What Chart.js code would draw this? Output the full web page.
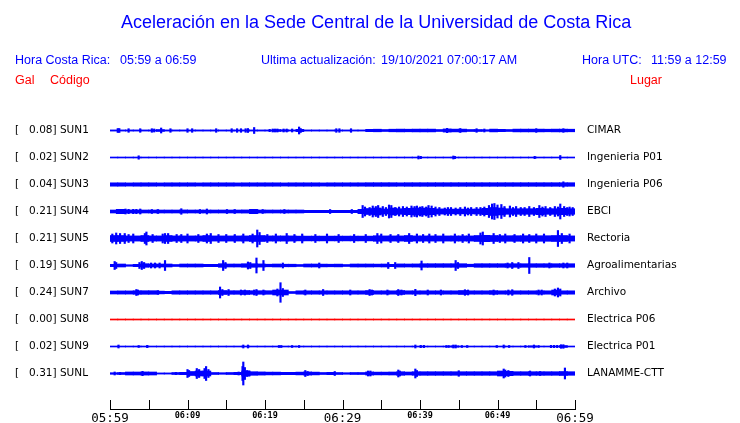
<!DOCTYPE html>
<html>
<head>
<meta charset="utf-8">
<script src="https://cdn.jsdelivr.net/npm/chart.js@4"></script>
<style>
  html, body { margin: 0; padding: 0; background: #fff; }
  #wrap { position: relative; width: 740px; height: 423px; overflow: hidden; }
  #wrap canvas { position: absolute; left: 0; top: 0; }
  .t { position: absolute; font-family: "Liberation Sans", Arial, sans-serif; line-height: 1; white-space: pre; color: #0000ff; }
  .red { color: #ff0000; }
</style>
</head>
<body>
<div id="wrap">
  <canvas id="seis" width="740" height="423"></canvas>
  <div class="t" style="left:121px;top:13px;font-size:18px">Aceleración en la Sede Central de la Universidad de Costa Rica</div>
  <div class="t" style="left:15px;top:54px;font-size:12.5px">Hora Costa Rica:</div>
  <div class="t" style="left:120px;top:54px;font-size:12.5px">05:59 a 06:59</div>
  <div class="t" style="left:261px;top:54px;font-size:12.5px">Ultima actualización:</div>
  <div class="t" style="left:381px;top:54px;font-size:12.5px">19/10/2021 07:00:17 AM</div>
  <div class="t" style="left:582px;top:54px;font-size:12.5px">Hora UTC:</div>
  <div class="t" style="left:651px;top:54px;font-size:12.5px">11:59 a 12:59</div>
  <div class="t red" style="left:15px;top:74px;font-size:12.5px">Gal</div>
  <div class="t red" style="left:50px;top:74px;font-size:12.5px">Código</div>
  <div class="t red" style="left:630px;top:74px;font-size:12.5px">Lugar</div>
</div>
<script>
// stations, top to bottom
const codes = ["SUN1", "SUN2", "SUN3", "SUN4", "SUN5", "SUN6", "SUN7", "SUN8", "SUN9", "SUNL"];
const peaks = [0.08, 0.02, 0.04, 0.21, 0.21, 0.19, 0.24, 0.00, 0.02, 0.31];
const places = ["CIMAR", "Ingenieria P01", "Ingenieria P06", "EBCI", "Rectoria",
  "Agroalimentarias", "Archivo", "Electrica P06", "Electrica P01", "LANAMME-CTT"];
const traceColors = ["#0000ff", "#0000ff", "#0000ff", "#0000ff", "#0000ff",
  "#0000ff", "#0000ff", "#ff0000", "#0000ff", "#0000ff"];

// minutes after 05:59 where the time axis has a tick
const tickMinutes = [0, 5, 10, 15, 20, 25, 30, 35, 40, 45, 50, 55, 60];

// envelope per minute (half width of the trace) and isolated peaks [minute, half width]
const sun1Env = [0.6, 0.6, 0.6, 0.6, 0.6, 0.6, 1.0, 0.6, 0.6, 0.6, 0.6, 0.6, 0.6, 0.6, 0.6, 0.6, 0.6, 0.6, 0.6, 0.6,
  0.6, 1.0, 0.8, 0.6, 1.2, 0.6, 0.6, 0.6, 0.6, 0.6, 0.6, 0.6, 0.6, 1.2, 1.3, 1.0, 1.3, 1.4, 1.3, 1.4,
  1.4, 1.4, 1.0, 1.6, 1.4, 1.4, 1.0, 1.0, 0.8, 1.4, 1.2, 1.0, 1.4, 1.4, 1.4, 1.4, 1.3, 1.4, 1.4, 1.3];
const sun1Spikes = [[1.0, 2], [1.2, 2], [2.4, 1.8], [3.9, 1.8], [5.4, 1.8], [5.7, 1.5], [6.6, 2.5], [7.8, 1.8],
  [10.0, 1.8], [10.6, 1.8], [13.7, 1.8], [15.7, 1.8], [16.4, 1.8], [16.9, 1.8], [17.5, 1.8], [17.8, 2],
  [18.6, 3], [20.6, 1.2], [21.0, 1.5], [21.3, 1.5], [21.6, 1.5], [22.4, 1.5], [22.8, 1.5], [23.5, 1.5],
  [24.4, 3.5], [24.6, 2], [29.2, 1.8], [29.6, 1.8], [31.1, 1.8], [43.5, 2.2], [45.2, 2], [47.3, 1.8],
  [48.3, 1.5], [55.0, 1.8], [58.5, 1.8]];

const sun2Env = [0.5, 0.5, 0.5, 0.5, 0.5, 0.5, 0.5, 0.5, 0.5, 0.5, 0.5, 0.5, 0.5, 0.5, 0.5, 0.5, 0.5, 0.5, 0.5, 0.5,
  0.5, 0.5, 0.5, 0.5, 0.5, 0.5, 0.5, 0.5, 0.5, 0.5, 0.5, 0.5, 0.5, 0.5, 0.5, 0.5, 0.5, 0.5, 0.5, 0.5,
  0.5, 0.5, 0.5, 0.5, 0.5, 0.5, 0.5, 0.5, 0.5, 0.5, 0.5, 0.5, 0.5, 0.5, 0.5, 0.5, 0.5, 0.5, 0.5, 0.5];
const sun2Spikes = [[3.7, 1.7], [39.8, 1.5], [40.1, 1.2], [44.3, 1.5], [44.5, 1.2], [54.8, 1.2], [58.1, 2]];

const sun3Env = [1.7, 1.7, 1.6, 1.7, 1.7, 1.7, 1.6, 1.7, 1.7, 1.7, 1.7, 1.6, 1.7, 1.7, 1.7, 1.7, 1.6, 1.7, 1.7, 1.7,
  1.7, 1.7, 1.6, 1.7, 1.7, 1.7, 1.7, 1.6, 1.7, 1.7, 1.7, 1.7, 1.7, 1.8, 1.8, 1.8, 1.8, 1.7, 1.8, 1.8,
  1.8, 1.8, 1.8, 1.8, 1.8, 1.8, 1.8, 1.8, 1.8, 1.8, 1.8, 1.8, 1.8, 1.8, 1.8, 1.8, 1.8, 1.8, 1.8, 1.8];
const sun3Spikes = [[58.5, 2.7]];

const sun4Env = [1.5, 2.2, 1.6, 1.6, 1.5, 1.5, 1.5, 1.5, 1.5, 1.6, 1.5, 1.5, 1.5, 1.5, 1.5, 1.5, 1.5, 1.6, 2.2, 1.5,
  1.5, 1.5, 1.5, 1.5, 1.5, 1.2, 1.2, 1.2, 1.2, 1.2, 1.2, 1.2, 2.2, 3.0, 3.5, 2.5, 3.5, 2.8, 3.2, 3.5,
  3.5, 3.2, 2.6, 2.4, 2.4, 2.4, 2.4, 2.5, 3.2, 4.0, 3.5, 2.8, 2.8, 2.8, 2.8, 3.2, 2.8, 2.8, 3.2, 2.8];
const sun4Spikes = [[0.9, 2.2], [2.0, 2.5], [2.4, 2.2], [3.0, 2.2], [3.4, 2.2], [3.9, 2.5], [5.4, 2], [6.2, 2],
  [9.2, 2.8], [11.6, 2], [12.5, 2.5], [15.1, 2], [16.1, 2], [19.0, 2], [19.7, 2], [22.5, 2], [28.4, 2], [31.2, 2],
  [32.6, 6], [32.9, 4.5], [33.5, 4], [33.9, 5.5], [34.3, 5], [34.6, 6], [35.2, 5], [35.6, 4], [36.0, 6.5],
  [36.3, 6], [36.8, 4], [37.3, 4.5], [37.8, 5], [38.3, 4.5], [38.9, 5.5], [39.3, 5], [39.6, 5.5], [40.0, 4.5],
  [40.3, 5], [40.8, 4.5], [41.1, 6], [41.5, 5.5], [42.0, 4.5], [42.5, 4], [43.2, 3.5], [43.6, 4], [44.0, 4],
  [44.6, 3.5], [45.2, 4], [45.8, 4.5], [46.2, 3.5], [46.6, 4], [47.3, 4], [47.8, 4], [48.3, 4.5], [48.9, 6],
  [49.3, 7.5], [49.6, 8], [50.0, 6.5], [50.5, 7], [50.9, 5], [51.6, 5.5], [52.0, 4], [52.4, 5], [53.0, 4],
  [53.5, 4], [54.1, 5], [54.7, 4], [55.4, 6], [55.8, 4.5], [56.2, 5], [56.8, 4], [57.4, 5], [57.8, 4.5],
  [58.1, 7.5], [58.6, 5], [59.0, 4], [59.3, 4.5], [59.7, 4]];

const sun5Env = [3.0, 3.0, 2.6, 2.6, 3.0, 2.6, 2.6, 3.0, 2.6, 2.6, 2.6, 2.6, 3.0, 2.6, 2.6, 2.6, 2.6, 2.6, 3.0, 3.0,
  2.6, 2.6, 2.6, 2.6, 2.4, 2.4, 2.4, 2.4, 2.4, 2.4, 2.4, 2.4, 2.4, 2.4, 2.8, 2.6, 2.6, 2.6, 3.0, 2.6,
  2.6, 2.6, 2.6, 2.6, 2.6, 2.6, 2.6, 3.0, 3.2, 3.0, 2.8, 2.8, 2.8, 2.8, 2.8, 2.8, 2.8, 3.0, 3.0, 2.6];
const sun5Spikes = [[0.3, 4.5], [0.8, 5.5], [1.3, 5], [1.9, 5], [2.4, 4], [3.0, 4.5], [4.5, 5], [4.7, 6.5],
  [5.5, 4], [6.8, 4.5], [7.1, 5], [7.5, 5], [8.6, 4], [9.2, 4], [10.0, 4.5], [11.4, 4], [12.5, 4.5], [13.0, 5],
  [14.0, 4], [15.0, 4], [16.1, 4], [17.2, 4.5], [18.4, 4.5], [19.0, 8.5], [19.3, 6], [20.3, 4], [21.4, 4.5],
  [22.8, 5], [23.8, 4], [24.8, 4.5], [26.5, 4], [28.0, 4.5], [29.5, 4], [31.5, 4], [33.0, 4], [34.5, 5],
  [35.0, 4.5], [36.2, 4], [37.2, 4], [38.6, 5], [39.6, 4.5], [40.4, 4], [41.2, 4.5], [42.0, 4], [43.0, 4.5],
  [44.5, 4.5], [45.5, 4], [46.3, 4.5], [47.8, 5.5], [48.1, 6.5], [49.5, 5], [50.3, 4], [51.0, 4.5], [52.2, 4],
  [53.3, 4.5], [54.1, 4], [55.0, 4.5], [56.0, 4.5], [57.8, 8], [58.3, 5], [59.3, 4.5]];

const sun6Env = [1.2, 1.5, 0.8, 1.2, 1.8, 1.5, 1.5, 1.5, 1.0, 1.5, 1.5, 1.5, 1.2, 1.2, 1.8, 1.5, 1.5, 1.8, 1.8, 1.6,
  1.3, 1.5, 1.3, 1.3, 1.0, 1.5, 1.5, 1.4, 1.3, 1.4, 1.0, 1.5, 1.5, 1.5, 1.4, 1.5, 1.2, 1.6, 1.5, 1.6,
  1.8, 1.8, 1.8, 1.8, 1.8, 1.8, 1.3, 1.8, 1.8, 1.8, 1.8, 1.8, 1.8, 1.8, 1.8, 1.8, 1.8, 1.8, 1.8, 1.8];
const sun6Spikes = [[0.6, 4], [0.8, 3], [3.8, 3], [4.1, 4], [4.4, 3], [5.3, 2.5], [5.8, 2.5], [6.4, 2.5],
  [7.1, 5], [14.6, 5], [14.9, 3], [17.8, 3.5], [18.1, 3], [18.9, 7.5], [19.8, 5], [22.3, 2.5], [27.0, 2.5],
  [35.9, 3], [36.8, 3], [40.2, 4.5], [44.6, 5], [44.9, 3], [51.3, 2.5], [51.9, 3], [52.7, 3], [54.1, 8],
  [56.7, 2.5], [58.5, 2.5], [59.0, 2.5]];

const sun7Env = [1.5, 1.6, 1.6, 1.8, 1.8, 1.8, 1.4, 1.2, 1.7, 1.7, 1.7, 1.7, 1.7, 1.7, 2.0, 1.8, 1.8, 2.0, 1.8, 1.8,
  1.8, 2.5, 2.5, 1.0, 1.7, 1.7, 1.7, 1.7, 1.7, 1.7, 1.7, 1.7, 1.7, 2.0, 1.7, 1.7, 1.7, 2.0, 1.7, 1.7,
  1.7, 1.7, 1.7, 1.7, 1.7, 2.0, 1.7, 1.7, 1.7, 1.9, 1.7, 1.7, 1.7, 1.7, 1.7, 1.7, 1.7, 2.5, 1.7, 1.7];
const sun7Spikes = [[3.4, 3], [3.6, 2.5], [6.2, 2], [14.2, 5.5], [14.5, 3], [15.3, 3], [16.9, 2.5], [17.4, 2.5],
  [18.6, 2.5], [18.9, 3], [19.8, 2.5], [21.6, 3.5], [22.0, 9.8], [22.3, 4], [25.2, 2.5], [27.5, 3], [31.0, 2.5],
  [33.5, 3], [33.8, 2.5], [35.8, 2.5], [37.2, 3], [37.6, 2.5], [39.4, 3.2], [41.0, 2.5], [42.7, 2.5],
  [45.8, 2.8], [46.2, 2.5], [49.5, 2.5], [51.4, 2.5], [51.9, 2.8], [55.3, 2.5], [55.7, 2.5], [57.4, 3.5],
  [57.8, 4.5], [58.1, 3.5]];

const sun8Env = [0.5, 0.5, 0.5, 0.5, 0.5, 0.5, 0.5, 0.5, 0.5, 0.5, 0.5, 0.5, 0.5, 0.5, 0.5, 0.5, 0.5, 0.5, 0.5, 0.5,
  0.5, 0.5, 0.5, 0.5, 0.5, 0.5, 0.5, 0.5, 0.5, 0.5, 0.5, 0.5, 0.5, 0.5, 0.5, 0.5, 0.5, 0.5, 0.5, 0.5,
  0.5, 0.5, 0.5, 0.5, 0.5, 0.5, 0.5, 0.5, 0.5, 0.5, 0.5, 0.5, 0.5, 0.5, 0.5, 0.5, 0.5, 0.5, 0.5, 0.5];
const sun8Spikes = [];

const sun9Env = [0.5, 0.5, 0.5, 0.5, 0.5, 0.5, 0.5, 0.5, 0.5, 0.5, 0.5, 0.5, 0.5, 0.5, 0.5, 0.5, 0.5, 0.5, 0.5, 0.5,
  0.5, 0.5, 0.5, 0.5, 0.5, 0.5, 0.5, 0.5, 0.5, 0.5, 0.5, 0.5, 0.5, 0.5, 0.5, 0.5, 0.5, 0.5, 0.5, 0.5,
  0.5, 0.5, 0.5, 0.5, 0.8, 0.5, 0.5, 0.5, 0.5, 0.5, 0.5, 0.5, 0.5, 0.5, 0.8, 0.5, 0.5, 0.5, 1.0, 0.5];
const sun9Spikes = [[1.1, 1.5], [3.7, 1], [4.8, 1.2], [17.2, 1.5], [17.8, 1.5], [21.8, 1], [22.1, 1], [23.5, 1],
  [24.4, 1], [39.4, 1.5], [40.1, 1.2], [40.5, 1.2], [43.4, 1], [43.7, 1], [44.3, 1.5], [44.6, 1.5], [45.4, 1],
  [46.1, 1], [49.9, 1], [50.8, 1.5], [51.5, 1], [53.6, 1], [54.7, 1.5], [55.3, 1], [56.9, 1.2], [57.3, 1.2],
  [57.7, 1.2], [58.2, 1.8], [58.5, 1.8]];

const sunlEnv = [0.8, 1.0, 1.5, 1.5, 1.6, 1.5, 0.6, 0.6, 1.0, 1.2, 2.0, 2.5, 2.5, 1.0, 0.8, 1.0, 1.2, 2.5, 1.8, 1.6,
  1.4, 1.4, 1.2, 1.2, 1.4, 1.6, 1.4, 1.0, 1.2, 1.0, 0.8, 1.0, 1.0, 1.6, 1.4, 1.4, 1.5, 1.8, 1.5, 1.8,
  1.8, 1.8, 1.8, 1.8, 1.8, 1.8, 1.8, 1.8, 1.8, 1.8, 2.5, 2.2, 1.8, 1.8, 1.8, 1.8, 1.8, 1.8, 2.0, 1.8];
const sunlSpikes = [[0.6, 1.5], [1.3, 1.2], [4.2, 2.2], [8.5, 1.2], [9.5, 1.2], [10.0, 4], [10.2, 3], [11.2, 5],
  [11.5, 4], [12.2, 5], [12.4, 7], [12.7, 4], [16.6, 1.5], [17.1, 7], [17.2, 11.5], [17.4, 6], [17.7, 3],
  [18.0, 2.5], [25.2, 3], [25.5, 2], [29.0, 2], [33.3, 2.5], [33.6, 2.5], [37.2, 3.5], [37.4, 2.5], [39.4, 4.5],
  [39.6, 3], [45.0, 2.8], [50.8, 4.5], [51.0, 3.5], [51.4, 3], [54.2, 2.5], [55.5, 2], [58.7, 5.5]];

const envelopes = [sun1Env, sun2Env, sun3Env, sun4Env, sun5Env, sun6Env, sun7Env, sun8Env, sun9Env, sunlEnv];
const spikes = [sun1Spikes, sun2Spikes, sun3Spikes, sun4Spikes, sun5Spikes, sun6Spikes, sun7Spikes, sun8Spikes, sun9Spikes, sunlSpikes];

// one trace band is 27 amplitude units tall
const AMP = 1 / 27;
const yMin = -27.5 / 27;
const yMax = yMin + 306 / 27;

const clock = (m) => {
  const t = 359 + m;
  return String(Math.floor(t / 60)).padStart(2, "0") + ":" + String(t % 60).padStart(2, "0");
};

const datasets = [];
envelopes.forEach((env, k) => {
  datasets.push({
    data: env.map((a, i) => ({ x: i + 0.5, y: [k - a * AMP, k + a * AMP] })),
    backgroundColor: traceColors[k],
    barThickness: 8,
  });
  datasets.push({
    data: spikes[k].map(([m, a]) => ({ x: m, y: [k - a * AMP, k + a * AMP] })),
    backgroundColor: traceColors[k],
    barThickness: 1.5,
  });
});

// small tick marks standing up from the time axis
const tickMarks = {
  id: "tickMarks",
  afterDraw(chart) {
    const { ctx, chartArea, scales: { x } } = chart;
    ctx.save();
    ctx.strokeStyle = "#000";
    ctx.lineWidth = 1;
    x.ticks.forEach((t) => {
      const px = Math.round(x.getPixelForValue(t.value)) + 0.5;
      ctx.beginPath();
      ctx.moveTo(px, chartArea.bottom - 9);
      ctx.lineTo(px, chartArea.bottom);
      ctx.stroke();
    });
    ctx.restore();
  },
};

const stationTicks = (scale) => {
  scale.ticks = codes.map((c, i) => ({ value: i }));
};

new Chart(document.getElementById("seis"), {
  type: "bar",
  data: { datasets },
  options: {
    responsive: false,
    animation: false,
    layout: { padding: { left: 15, top: 103, right: 0, bottom: 0 } },
    datasets: { bar: { grouped: false, borderWidth: 0 } },
    plugins: { legend: { display: false }, tooltip: { enabled: false } },
    scales: {
      x: {
        type: "linear",
        min: 0,
        max: 60,
        offset: false,
        grid: { display: true, drawOnChartArea: false, drawTicks: false, offset: false },
        border: { display: true, color: "#000", width: 1 },
        afterBuildTicks: (s) => { s.ticks = tickMinutes.map((v) => ({ value: v })); },
        afterFit: (s) => { s.height = 14; },
        ticks: {
          autoSkip: false,
          maxRotation: 0,
          padding: 2,
          color: "#000",
          font: (c) => (c.tick && c.tick.value % 30 === 0
            ? { family: "DejaVu Sans Mono", size: 12.5 }
            : { family: "DejaVu Sans Mono", size: 8.5, weight: "bold" }),
          callback: (v) => (v % 10 === 0 ? clock(v) : ""),
        },
      },
      y: {
        min: yMin,
        max: yMax,
        reverse: true,
        grid: { display: false },
        border: { display: false },
        afterBuildTicks: stationTicks,
        afterFit: (s) => { s.width = 95; },
        ticks: {
          crossAlign: "far",
          padding: 0,
          color: "#000",
          font: { family: "DejaVu Sans", size: 10.5 },
          callback: (v) => "[   " + peaks[v].toFixed(2) + "] " + codes[v],
        },
      },
      y2: {
        position: "right",
        min: yMin,
        max: yMax,
        reverse: true,
        grid: { display: false },
        border: { display: false },
        afterBuildTicks: stationTicks,
        afterFit: (s) => { s.width = 165; },
        ticks: {
          padding: 4,
          color: "#000",
          font: { family: "DejaVu Sans", size: 10.5 },
          callback: (v) => places[v],
        },
      },
    },
  },
  plugins: [tickMarks],
});
</script>
</body>
</html>
